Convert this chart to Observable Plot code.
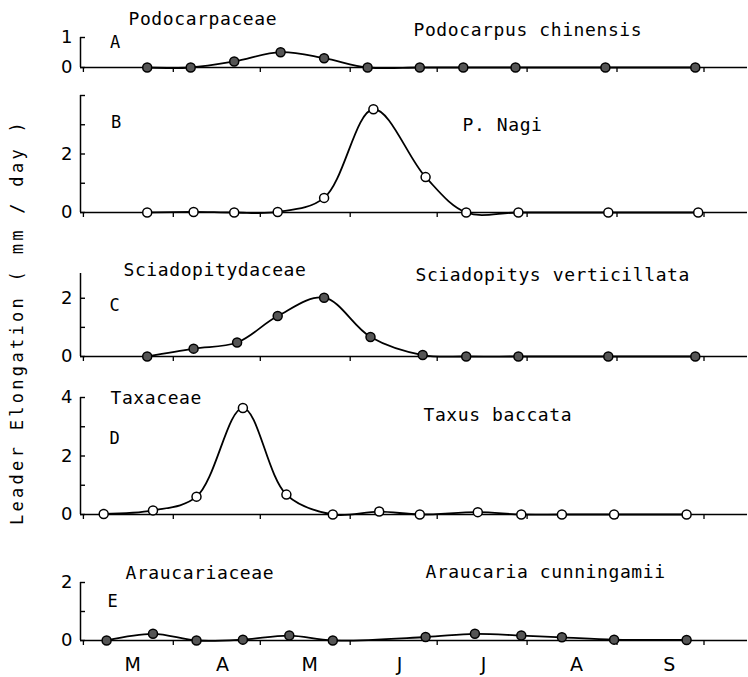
<!DOCTYPE html>
<html><head><meta charset="utf-8">
<script src="https://cdn.jsdelivr.net/npm/d3@7"></script>
<script src="https://cdn.jsdelivr.net/npm/@observablehq/plot@0.6"></script>
<style>
body{margin:0;background:#fff;}
#chart{position:relative;width:748px;height:677px;overflow:hidden;background:#fff;}
#chart svg{display:block;position:relative;z-index:0;}
#ytitle{position:absolute;z-index:2;left:17px;top:322px;transform:translate(-50%,-50%) rotate(-90deg);white-space:nowrap;font-family:"DejaVu Sans Mono";font-size:17px;letter-spacing:3.3px;color:#000;}
</style></head><body>
<div id="chart"><div id="ytitle">Leader Elongation ( mm / day )</div></div>
<script>
// ---------- data ----------
const year = "2023-";
const monthLabels = ["M","A","M","J","J","A","S"];
const monthStarts = ["03-01","04-01","05-01","06-01","07-01","08-01","09-01","10-01"];
const monthMids   = ["03-18","04-18","05-18","06-18","07-17","08-18","09-19"];

const familyNames  = ["Podocarpaceae","","Sciadopitydaceae","Taxaceae","Araucariaceae"];
const speciesNames = ["Podocarpus chinensis","P. Nagi","Sciadopitys verticillata","Taxus baccata","Araucaria cunningamii"];
const panelLetters = ["A","B","C","D","E"];

const aDates  = ["03-23","04-07","04-22","05-08","05-23","06-07","06-25","07-10","07-28","08-28","09-28"];
const aValues = [0, 0, 0.2, 0.51, 0.31, 0, 0, 0, 0, 0, 0];

const bDates  = ["03-23","04-08","04-22","05-07","05-23","06-09","06-27","07-11","07-29","08-29","09-29"];
const bValues = [0, 0.02, 0, 0.02, 0.5, 3.53, 1.21, 0, 0, 0, 0];

const cDates  = ["03-23","04-08","04-23","05-07","05-23","06-08","06-26","07-11","07-29","08-29","09-28"];
const cValues = [0, 0.27, 0.48, 1.39, 2.02, 0.67, 0.05, 0, 0, 0, 0];

const dDates  = ["03-08","03-25","04-09","04-25","05-10","05-26","06-11","06-25","07-15","07-30","08-13","08-31","09-25"];
const dValues = [0.02, 0.14, 0.61, 3.64, 0.68, 0, 0.1, 0, 0.08, 0, 0, 0, 0];

const eDates  = ["03-09","03-25","04-09","04-25","05-11","05-26","06-27","07-14","07-30","08-13","08-31","09-25"];
const eValues = [0, 0.23, 0, 0.03, 0.17, 0, 0.12, 0.23, 0.17, 0.11, 0.03, 0.02];

const panelDates  = [aDates, bDates, cDates, dDates, eDates];
const panelValues = [aValues, bValues, cValues, dValues, eValues];
const panelFilled = [true, false, true, false, true];
const panelYMax   = [1, 4, 2.85, 4, 2];
const panelTicks  = [[0,1],[0,1,2,3,4],[0,1,2],[0,1,2,3,4],[0,1,2]];
const panelTickLabels = [[0,1],[0,2],[0,2],[0,2,4],[0,2]];

// ---------- layout (pixels) ----------
const W = 748, ML = 80, MR = 1, TICK_IN = 5;
const layout = [
  {top:0,   height:80,  marginTop:37, marginBottom:13, fam:[128,18.5], spe:[413,29.5], let:[115,42.5]},
  {top:80,  height:145, marginTop:15, marginBottom:13, fam:[0,0],      spe:[462,124.5], let:[116,122.5]},
  {top:225, height:145, marginTop:48, marginBottom:14, fam:[123,270],  spe:[415,275],  let:[114.5,305.5]},
  {top:370, height:160, marginTop:27, marginBottom:16, fam:[110,398],  spe:[423,415],  let:[114.5,438.5]},
  {top:530, height:147, marginTop:52, marginBottom:37, fam:[125,572.5],spe:[425,572],  let:[112.5,601.5]}
];

const toDate = s => new Date(year + s + "T00:00:00Z");
const xDomain = [toDate("02-28"), toDate("10-16")];
const msPerPx = (xDomain[1] - xDomain[0]) / (W - ML - MR);
const tickEnd = new Date(+xDomain[0] + TICK_IN * msPerPx);
const startTicks = monthStarts.map(toDate);
const midTicks = monthMids.map(toDate);
const midLabel = new Map(midTicks.map((d,i) => [+d, monthLabels[i]]));

const monoFont = "DejaVu Sans Mono";
const sansFont = "DejaVu Sans";
const ink = "#000";
const chart = document.getElementById("chart");

panelLetters.forEach((letter, p) => {
  const L = layout[p];
  const rows = panelDates[p].map((d,i) => ({date: toDate(d), value: panelValues[p][i]}));
  const dyOf = y => (y - L.top) - L.marginTop;
  const dxOf = x => x - ML;
  const marks = [
    Plot.ruleY([0], {stroke:ink, strokeWidth:1.5}),
    Plot.ruleX([xDomain[0]], {y1:0, y2:panelYMax[p], stroke:ink, strokeWidth:1.5}),
    Plot.ruleY(panelTicks[p], {y: d => d, x1: xDomain[0], x2: tickEnd, stroke: ink, strokeWidth: 1.4}),
    Plot.axisY({ticks: panelTickLabels[p], label: null, tickSize: 0, tickPadding: 8, tickFormat: d => String(d), fontSize: 18, fontFamily: sansFont, fill:ink}),
    Plot.axisX({ticks: startTicks, label: null, tickSize: 5, tickFormat: () => "", stroke:ink, strokeWidth:1.3}),
    Plot.line(rows, {x:"date", y:"value", curve:"catmull-rom", stroke:ink, strokeWidth:1.8}),
    Plot.dot(rows, {x:"date", y:"value", r:4.5, fill: panelFilled[p] ? "#555" : "white", stroke:ink, strokeWidth:1.5}),
    Plot.text([letter], {frameAnchor:"top-left", dx:dxOf(L.let[0]), dy:dyOf(L.let[1]), text:d=>d, textAnchor:"middle", lineAnchor:"middle", fontFamily:monoFont, fontSize:17, fill:ink}),
    Plot.text([speciesNames[p]], {frameAnchor:"top-left", dx:dxOf(L.spe[0]), dy:dyOf(L.spe[1]), text:d=>d, textAnchor:"start", lineAnchor:"middle", fontFamily:monoFont, fontSize:18, fill:ink})
  ];
  if (familyNames[p]) {
    marks.push(Plot.text([familyNames[p]], {frameAnchor:"top-left", dx:dxOf(L.fam[0]), dy:dyOf(L.fam[1]), text:d=>d, textAnchor:"start", lineAnchor:"middle", fontFamily:monoFont, fontSize:18, fill:ink}));
  }
  if (p === panelLetters.length - 1) {
    marks.push(Plot.axisX({ticks: midTicks, label: null, tickSize: 0, tickPadding: 17, tickFormat: d => midLabel.get(+d), fontSize: 19, fontFamily: sansFont, fill:ink}));
  }
  const svg = Plot.plot({
    width: W, height: L.height,
    marginLeft: ML, marginRight: MR, marginTop: L.marginTop, marginBottom: L.marginBottom,
    style: {background:"white", color:ink, overflow:"visible"},
    x: {type:"utc", domain:xDomain, label: null},
    y: {domain:[0, panelYMax[p]], label: null},
    marks
  });
  d3.select(svg).selectAll('g[aria-label="text"] text').style("letter-spacing","0.6px");
  chart.appendChild(svg);
});
</script>
</body></html>
